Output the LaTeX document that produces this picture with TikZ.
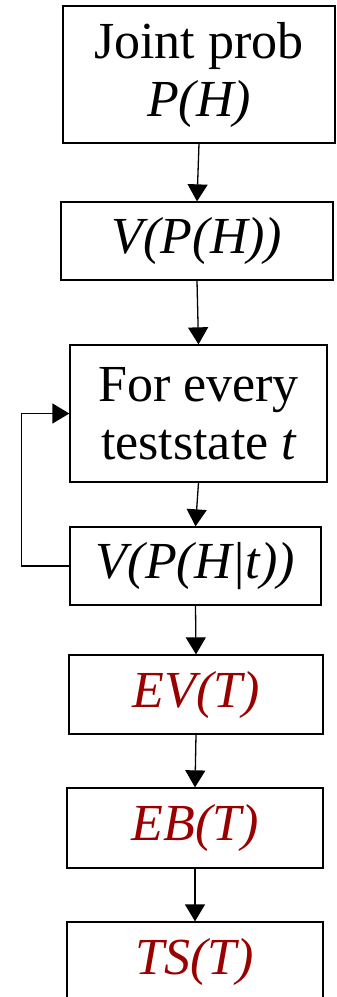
\documentclass[tikz,border=0pt]{standalone}
\usepackage{fontspec}
\setmainfont{Liberation Serif}
\usetikzlibrary{arrows.meta}
\definecolor{dred}{RGB}{153,0,0}
\begin{document}
\begin{tikzpicture}[x=1pt,y=1pt,
  box/.style={draw,line width=1.3pt,inner sep=0pt,align=center,font=\fontsize{52}{58}\selectfont},
  arr/.style={line width=1.3pt,-{Triangle[length=17pt,width=20pt]}},
  red/.style={text=dred,font=\fontsize{52}{58}\selectfont\itshape}]
\useasboundingbox (0,0) rectangle (337,-997);
\node[box,minimum width=272,minimum height=137] (b1) at (199,-74.5) {Joint prob\\\itshape P(H)};
\node[box,minimum width=272,minimum height=78] (b2) at (197,-241) {\itshape V(P(H))};
\node[box,minimum width=257,minimum height=137] (b3) at (198.5,-413.5) {For every\\teststate \itshape t};
\node[box,minimum width=251,minimum height=78] (b4) at (195.5,-566) {\itshape V(P(H|t))};
\node[box,red,minimum width=254,minimum height=79] (b5) at (196,-694.5) {EV(T)};
\node[box,red,minimum width=256,minimum height=80] (b6) at (195,-828) {EB(T)};
\node[box,red,minimum width=256,minimum height=80] (b7) at (195,-962) {TS(T)};
\draw[arr] (b1.south) -- (b2.north);
\draw[arr] (b2.south) -- (b3.north);
\draw[arr] (b3.south) -- (b4.north);
\draw[arr] (b4.south) -- (b5.north);
\draw[arr] (b5.south) -- (b6.north);
\draw[arr] (b6.south) -- (b7.north);
\draw[arr] (b4.west) -- ++(-48,0) |- (b3.west);
\end{tikzpicture}
\end{document}
